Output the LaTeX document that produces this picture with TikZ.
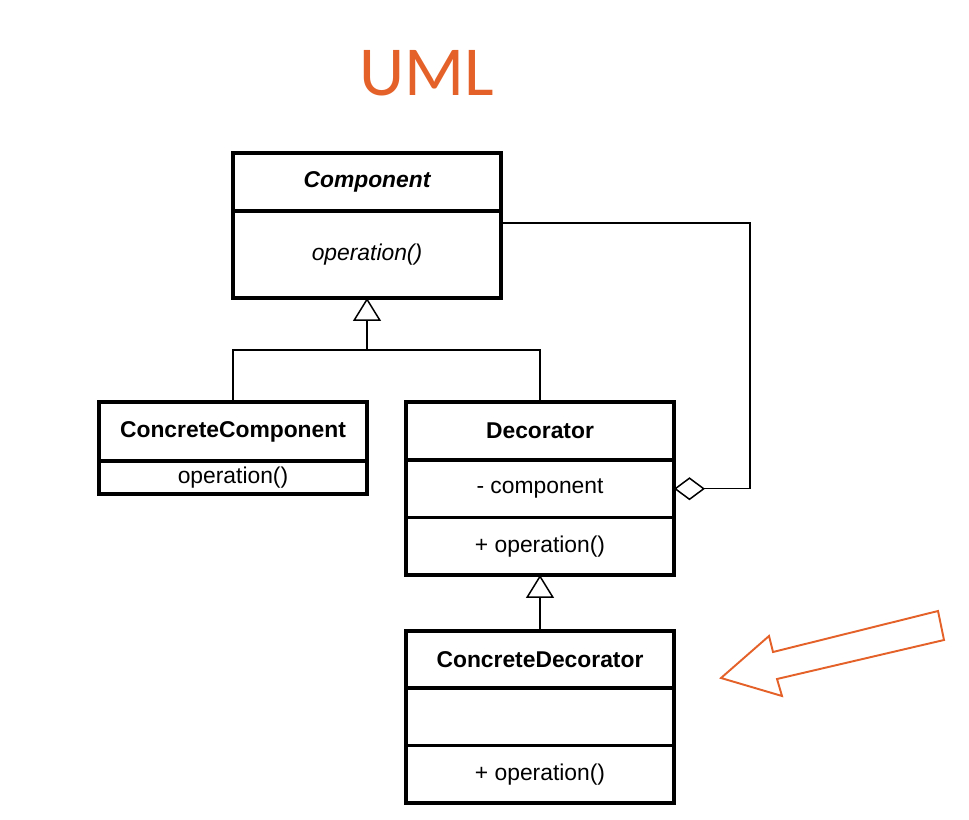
\documentclass[tikz,border=0pt]{standalone}
\usepackage{fontspec}
\setsansfont{Liberation Sans}
\newfontfamily\titlefont{Carlito}
\usetikzlibrary{arrows.meta, calc, positioning}
\definecolor{umlorange}{RGB}{228,98,42}

\begin{document}
\begin{tikzpicture}[
  x=0.02cm, y=-0.02cm,
  thick,
  part/.style={
    draw,
    rectangle,
    line width=2pt,
    outer sep=0pt,
    inner sep=0pt,
    minimum width=5.36cm,
    minimum height=1.15cm,
    font=\fontsize{13}{15}\selectfont\sffamily
  },
  link/.style={line width=0.85pt},
  gen/.style={link, -{Triangle[open, length=0.46cm, width=0.56cm]}},
  agg/.style={link, {Diamond[open, length=0.62cm, width=0.46cm]}-}
]

% --- Frame (keeps the margins) ---
\useasboundingbox (0,0) rectangle (969,820);

% --- Title ---
\node[text=umlorange, font=\titlefont\fontsize{40}{44}\selectfont] (title) at (427,73) {UML};

% --- Component ---
\node[part, minimum height=1.16cm] (compName) at (367,182) {\bfseries\itshape Component};
\node[part, minimum height=1.74cm, below=0pt of compName] (compOp) {\itshape operation()};

% --- ConcreteComponent ---
\node[part, minimum height=1.18cm] (ccName) at (233,431.5) {\bfseries ConcreteComponent};
\node[part, minimum height=0.66cm, below=0pt of ccName] (ccOp) {operation()};

% --- Decorator ---
\node[part, minimum height=1.16cm] (decName) at (540,431) {\bfseries Decorator};
\node[part, below=0pt of decName] (decAttr) {- component};
\node[part, below=0pt of decAttr] (decOp) {+ operation()};

% --- ConcreteDecorator ---
\node[part] (cdName) at (540,659.5) {\bfseries ConcreteDecorator};
\node[part, below=0pt of cdName] (cdAttr) {};
\node[part, below=0pt of cdAttr] (cdOp) {+ operation()};

% --- Generalisation ---
\coordinate (split) at (367,350);
\draw[gen] (ccName.north) |- (split) -- (compOp.south);
\draw[link] (decName.north) |- (split);
\draw[gen] (cdName.north) -- (decOp.south);

% --- Aggregation: Decorator holds a Component ---
\coordinate (aggIn) at ($(compOp.north east)+(0,12)$);
\draw[agg] (decAttr.east) -- ++(76,0) |- (aggIn);

% --- Orange pointer ---
\draw[umlorange, line width=1.1pt, line join=miter]
  (721,678)            % tip
  -- (769,636)         % upper barb
  -- (773,652)
  -- (938,611)         % shaft end
  -- (944,640)
  -- (777,679)
  -- (782,696)         % lower barb
  -- cycle;

\end{tikzpicture}
\end{document}
